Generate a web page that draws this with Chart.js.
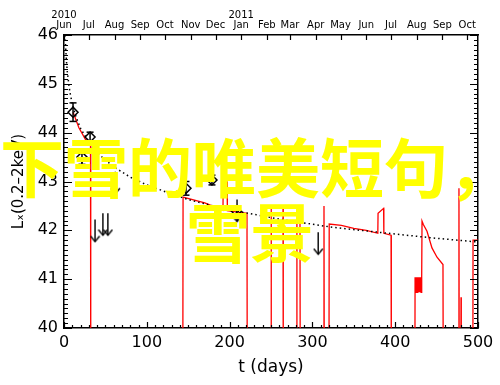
<!DOCTYPE html>
<html>
<head>
<meta charset="utf-8">
<script src="https://cdn.jsdelivr.net/npm/chart.js@4/dist/chart.umd.min.js"></script>
<style>
body { margin: 0; background: #fff; }
#wrap { position: relative; width: 500px; height: 385px; }
#overlay { position: absolute; left: 0; top: 132px; width: 500px; text-align: center; color: #ffff00;
  font-family: "Noto Sans CJK SC"; font-weight: bold; font-size: 64px; line-height: 65px; white-space: nowrap; }
</style>
</head>
<body>
<div id="wrap">
  <canvas id="myChart" width="500" height="385"></canvas>
  <div id="overlay">下雪的唯美短句，<br>雪景</div>
</div>
<script>
// red light curve (drops below 40 where nothing was seen)
var curveT = [11, 18, 26, 32, 32.3, 143.5, 143.8, 170, 192, 192.3, 197, 197.3, 221, 221.3,
  250, 250.3, 264.5, 264.8, 281, 281.3, 285, 285.3, 313.8, 314, 314.3, 320, 320.3, 335, 350, 365, 379,
  379.3, 386, 386.3, 395, 395.3, 423.8,
  424, 424.5, 425, 425.5, 426, 426.5, 427, 427.5, 428, 428.5, 429, 429.5, 430, 430.5, 431, 431.5, 432,
  432.4, 434, 438.4, 444.4, 450.5, 457.7, 458, 476.8, 477, 477.3, 479.3, 479.5, 479.8, 493.8, 494, 500];
var curveL = [44.42, 44.1, 43.86, 43.78, 39, 39, 42.68, 42.56, 42.41, 42.99, 42.99, 42.4, 42.35, 39,
  39, 42.48, 42.48, 39, 39, 42.2, 42.2, 39, 39, 42.5, 39, 39, 42.13, 42.1, 42.04, 42.0, 41.94,
  42.35, 42.45, 41.94, 41.9, 39, 39,
  41.04, 40.73, 41.04, 40.73, 41.04, 40.73, 41.04, 40.73, 41.04, 40.73, 41.04, 40.73, 41.04, 40.73, 41.04, 40.73, 41.04,
  42.19, 42.12, 41.98, 41.64, 41.45, 41.3, 39, 39, 42.86, 39, 39, 40.63, 39, 39, 41.8, 41.8];

// dotted decay model
var modelT = [1.5, 2, 3, 4, 6, 8, 11, 15, 20, 30, 41, 60, 80, 100, 124, 150, 180, 216, 260, 321, 380, 442, 500];
var modelL = [46, 45.75, 45.46, 45.25, 44.96, 44.75, 44.52, 44.3, 44.09, 43.8, 43.57, 43.3, 43.09, 42.93,
  42.78, 42.63, 42.5, 42.37, 42.23, 42.07, 41.96, 41.85, 41.76];

// detections with errors
var detT = [10.9, 21.7, 31.5, 147.3, 178.7, 208.3];
var detL = [44.42, 43.5, 43.91, 42.86, 43.03, 42.39];
var detErr = [0.19, 0.15, 0.1, 0.14, 0.1, 0.07];

// upper limits
var ulT = [37.5, 47, 53, 62, 209, 307];
var ulL = [42.22, 42.35, 42.35, 43.2, 42.63, 41.96];

// axis ticks
var xTicks = [0, 100, 200, 300, 400, 500];
var monthDays = [0, 30, 61, 92, 122, 153, 183, 214, 245, 273, 304, 334, 365, 395, 426, 457, 487];
var monthNames = ['Jun', 'Jul', 'Aug', 'Sep', 'Oct', 'Nov', 'Dec', 'Jan', 'Feb', 'Mar', 'Apr', 'May',
  'Jun', 'Jul', 'Aug', 'Sep', 'Oct'];
var monthYears = ['2010', '', '', '', '', '', '', '2011', '', '', '', '', '', '', '', '', ''];

var arrowLen = 0.45;

function arrowHead() {
  var c = document.createElement('canvas');
  c.width = 11; c.height = 14;
  var g = c.getContext('2d');
  g.strokeStyle = '#000'; g.lineWidth = 1.4;
  g.beginPath(); g.moveTo(1, 1.5); g.lineTo(5.5, 7); g.lineTo(10, 1.5); g.stroke();
  return c;
}

var redPts = curveT.map(function(t, i) { return {x: t, y: curveL[i]}; });
var modelPts = modelT.map(function(t, i) { return {x: t, y: modelL[i]}; });
var detPts = detT.map(function(t, i) { return {x: t, y: detL[i]}; });
var errPts = [];
detT.forEach(function(t, i) {
  errPts.push({x: t, y: detL[i] - detErr[i]}, {x: t, y: detL[i] + detErr[i]}, {x: t, y: null});
});
var shaftPts = [], tipPts = [];
ulT.forEach(function(t, i) {
  shaftPts.push({x: t, y: ulL[i]}, {x: t, y: ulL[i] - arrowLen}, {x: t, y: null});
  tipPts.push({x: t, y: ulL[i] - arrowLen});
});

// inward ticks like the original frame
var frameTicks = {
  id: 'frameTicks',
  afterDraw: function(chart) {
    var ctx = chart.ctx, a = chart.chartArea;
    var x = chart.scales.x, y = chart.scales.y, top = chart.scales.xTop;
    ctx.save();
    ctx.strokeStyle = '#000';
    ctx.lineWidth = 1.2;
    ctx.beginPath();
    for (var v = 0; v <= 500; v += 10) {
      var px = Math.round(x.getPixelForValue(v)) + 0.5;
      var len = v % 100 === 0 ? 6 : 3;
      ctx.moveTo(px, a.bottom); ctx.lineTo(px, a.bottom - len);
    }
    for (var i = 0; i <= 60; i++) {
      var py = Math.round(y.getPixelForValue(40 + i / 10)) + 0.5;
      var l2 = i % 10 === 0 ? 8 : 4;
      ctx.moveTo(a.left, py); ctx.lineTo(a.left + l2, py);
      ctx.moveTo(a.right, py); ctx.lineTo(a.right - l2, py);
    }
    monthDays.forEach(function(d) {
      var mx = Math.round(top.getPixelForValue(d)) + 0.5;
      ctx.moveTo(mx, a.top); ctx.lineTo(mx, a.top + 5);
    });
    ctx.stroke();
    ctx.restore();
  }
};

var fam = 'DejaVu Sans';
var ctx = document.getElementById('myChart');
var chart = new Chart(ctx, {
  type: 'scatter',
  data: {
    datasets: [{
      data: detPts,
      pointStyle: 'rectRot',
      pointRadius: 5,
      pointBorderWidth: 1.5,
      borderColor: '#000',
      backgroundColor: 'rgba(0,0,0,0)'
    }, {
      data: errPts,
      showLine: true,
      spanGaps: false,
      borderColor: '#000',
      borderWidth: 1.5,
      pointStyle: 'line',
      pointRadius: 3.5,
      pointBorderWidth: 1.5
    }, {
      data: tipPts,
      pointStyle: arrowHead(),
      pointRadius: 3
    }, {
      data: shaftPts,
      showLine: true,
      spanGaps: false,
      borderColor: '#000',
      borderWidth: 1.4,
      pointRadius: 0
    }, {
      data: modelPts,
      showLine: true,
      borderColor: '#000',
      borderWidth: 1.5,
      borderDash: [1.5, 3],
      pointRadius: 0
    }, {
      data: redPts,
      showLine: true,
      borderColor: '#ff0000',
      borderWidth: 1.3,
      pointRadius: 0
    }]
  },
  options: {
    responsive: false,
    animation: false,
    devicePixelRatio: 1,
    layout: { padding: 0 },
    plugins: { legend: { display: false }, tooltip: { enabled: false } },
    scales: {
      x: {
        type: 'linear', position: 'bottom', min: 0, max: 500,
        afterBuildTicks: function(s) { s.ticks = xTicks.map(function(v) { return {value: v}; }); },
        afterFit: function(s) { s.height = 57; },
        grid: { display: false, drawTicks: false },
        border: { color: '#000', width: 1.5 },
        ticks: { color: '#000', font: { family: fam, size: 16 }, padding: 5, maxRotation: 0, autoSkip: false },
        title: { display: true, text: 't (days)', color: '#000', font: { family: fam, size: 17 }, padding: { top: 0, bottom: 7 } }
      },
      xTop: {
        type: 'linear', position: 'top', min: 0, max: 500,
        afterBuildTicks: function(s) { s.ticks = monthDays.map(function(v) { return {value: v}; }); },
        afterFit: function(s) { s.height = 35; },
        grid: { display: false, drawTicks: false },
        border: { color: '#000', width: 1.5 },
        ticks: {
          color: '#000', font: { family: fam, size: 10, lineHeight: 1.0 }, padding: 5, maxRotation: 0, autoSkip: false,
          callback: function(v, i) { return [monthYears[i], monthNames[i]]; }
        }
      },
      y: {
        type: 'linear', position: 'left', min: 40, max: 46,
        afterBuildTicks: function(s) { s.ticks = [40, 41, 42, 43, 44, 45, 46].map(function(v) { return {value: v}; }); },
        afterFit: function(s) { s.width = 64; },
        grid: { display: false, drawTicks: false },
        border: { color: '#000', width: 1.5 },
        ticks: { color: '#000', font: { family: fam, size: 16 }, padding: 6 },
        title: { display: true, text: 'Lₓ(0.2–2keV)', color: '#000', font: { family: fam, size: 15 }, padding: { top: 10, bottom: 0 } }
      },
      y2: {
        type: 'linear', position: 'right', min: 40, max: 46,
        afterFit: function(s) { s.width = 22; },
        grid: { display: false, drawTicks: false },
        border: { color: '#000', width: 1.5 },
        ticks: { display: false }
      }
    }
  },
  plugins: [frameTicks]
});
</script>
</body>
</html>
